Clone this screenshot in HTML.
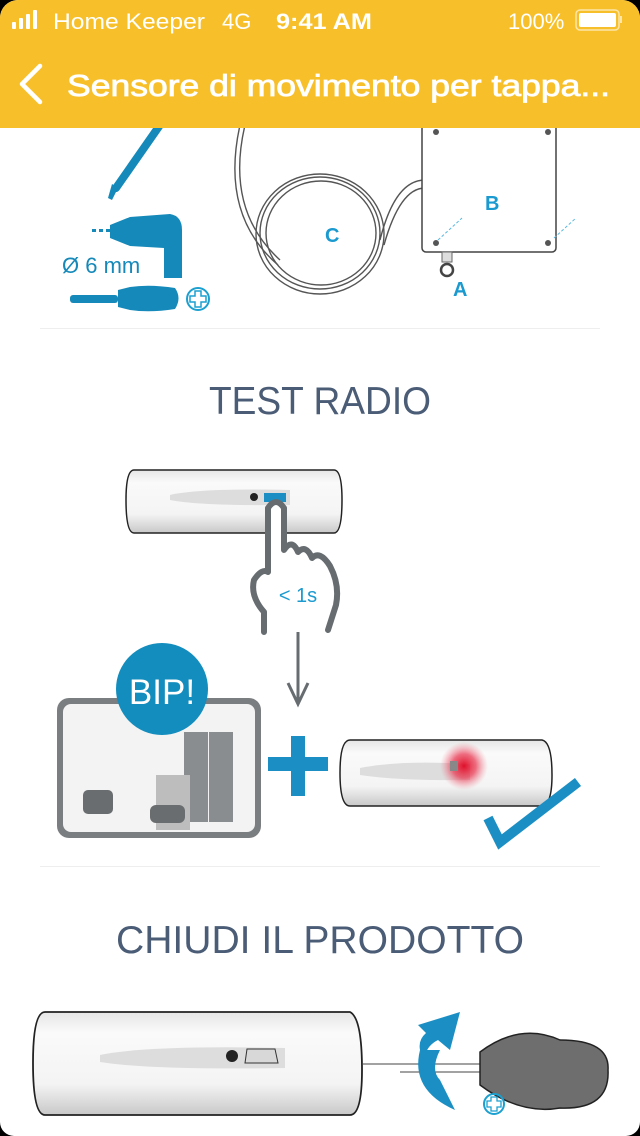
<!DOCTYPE html>
<html><head><meta charset="utf-8"><style>
html,body{margin:0;padding:0;width:640px;height:1136px;overflow:hidden;background:#000}
#p{position:absolute;left:0;top:0;width:640px;height:1136px;background:#fff;border-radius:18px 18px 14px 14px;overflow:hidden}
svg{position:absolute;left:0;top:0}
</style></head><body><div id="p">
<svg width="640" height="1136" viewBox="0 0 640 1136" font-family="Liberation Sans, sans-serif">
<defs>
<linearGradient id="cyl" x1="0" y1="0" x2="0" y2="1">
<stop offset="0" stop-color="#e6e6e6"/><stop offset="0.2" stop-color="#fafafa"/><stop offset="0.7" stop-color="#f4f4f4"/><stop offset="1" stop-color="#c8c8c8"/></linearGradient>
<radialGradient id="red"><stop offset="0" stop-color="#e0102a"/><stop offset="0.5" stop-color="#e8304a" stop-opacity="0.7"/><stop offset="1" stop-color="#f08090" stop-opacity="0"/></radialGradient>
</defs>

<!-- TOP ILLUSTRATION -->
<line x1="160" y1="125" x2="116" y2="188" stroke="#1589b9" stroke-width="8" stroke-linecap="round"/>
<path d="M112 184 l6 4 -6 12 -4 -2z" fill="#1589b9"/>
<g fill="#1589b9">
<rect x="92" y="229" width="4" height="3"/><rect x="99" y="229" width="4" height="3"/><rect x="106" y="229" width="4" height="3"/>
<path d="M110 225 L130 217 L170 214 Q182 216 182 230 L182 278 L164 278 L164 248 L130 246 L110 238 Z"/>
<rect x="70" y="295" width="48" height="8" rx="3"/>
<path d="M118 290 L130 287 Q150 284 175 288 Q182 298 175 309 Q150 313 130 310 L118 307Z"/>
</g>
<circle cx="198" cy="299" r="11" fill="none" stroke="#1ba0d0" stroke-width="2"/>
<path d="M195 291h6v5h5v6h-5v5h-6v-5h-5v-6h5z" fill="none" stroke="#1ba0d0" stroke-width="1.5"/>
<text x="62" y="273" font-size="22" fill="#1589b9">Ø 6 mm</text>
<!-- cable -->
<g fill="none" stroke="#555" stroke-width="1.4">
<ellipse cx="320" cy="233" rx="60" ry="56"/><ellipse cx="321" cy="233" rx="55" ry="52"/><ellipse cx="320" cy="234" rx="64" ry="60"/>
<path d="M245 125 Q225 210 280 260"/><path d="M240 125 Q220 215 278 265"/>
<path d="M380 240 Q395 180 425 180"/><path d="M384 245 Q400 188 425 188"/>
</g>
<rect x="422" y="118" width="134" height="134" rx="4" fill="#fff" stroke="#444" stroke-width="1.5"/>
<g fill="#555"><circle cx="436" cy="132" r="3"/><circle cx="548" cy="132" r="3"/><circle cx="436" cy="243" r="3"/><circle cx="548" cy="243" r="3"/></g>
<line x1="438" y1="240" x2="462" y2="218" stroke="#5ab8e0" stroke-dasharray="3 2"/>
<line x1="554" y1="238" x2="576" y2="218" stroke="#5ab8e0" stroke-dasharray="3 2"/>
<rect x="442" y="252" width="10" height="10" fill="#ddd" stroke="#666"/>
<circle cx="447" cy="270" r="6" fill="none" stroke="#444" stroke-width="2.5"/>
<text x="485" y="210" font-size="20" font-weight="bold" fill="#1b9ad0">B</text>
<text x="325" y="242" font-size="20" font-weight="bold" fill="#1b9ad0">C</text>
<text x="453" y="296" font-size="20" font-weight="bold" fill="#1b9ad0">A</text>

<line x1="40" y1="328.5" x2="600" y2="328.5" stroke="#eee" stroke-width="1"/>
<text x="320" y="414" font-size="39" fill="#4a5c76" text-anchor="middle" textLength="222" lengthAdjust="spacingAndGlyphs">TEST RADIO</text>

<!-- sensor 1 -->
<path d="M134 470 L334 470 Q342 470 342 500 Q342 533 334 533 L134 533 Q126 533 126 500 Q126 470 134 470Z" fill="url(#cyl)" stroke="#222" stroke-width="1.5"/>
<path d="M170 495 Q200 488 290 490 L290 505 Q200 506 170 500Z" fill="#ddd"/>
<circle cx="254" cy="497" r="4" fill="#222"/>
<rect x="264" y="493" width="22" height="9" fill="#1b8fc4"/>
<!-- hand -->
<path d="M264 632 L264 612 Q250 596 254 580 Q262 568 268 572 L268 508 Q276 496 284 508 L284 550 Q292 538 298 552 Q306 544 312 558 Q320 550 330 566 Q340 585 336 605 L328 630" fill="#fff" stroke="#666c70" stroke-width="6" stroke-linecap="round" stroke-linejoin="round"/>
<text x="298" y="602" font-size="20" fill="#1b9ad0" text-anchor="middle">&lt; 1s</text>
<line x1="298" y1="632" x2="298" y2="703" stroke="#666c70" stroke-width="3"/>
<path d="M288 683 L298 704 L308 683" fill="none" stroke="#666c70" stroke-width="3"/>

<!-- alarm box -->
<rect x="57" y="698" width="204" height="140" rx="12" fill="#7b7e80"/>
<rect x="63" y="704" width="192" height="128" rx="8" fill="#f3f3f3"/>
<rect x="184" y="732" width="24" height="90" fill="#8a8d8f"/><rect x="209" y="732" width="24" height="90" fill="#8a8d8f"/>
<rect x="156" y="775" width="34" height="55" fill="#bdbdbd"/>
<rect x="83" y="790" width="30" height="24" rx="5" fill="#6a6d6f"/>
<rect x="150" y="805" width="35" height="18" rx="6" fill="#6a6d6f"/>
<circle cx="162" cy="689" r="46" fill="#138dbd"/>
<text x="162" y="704" font-size="35" fill="#fff" text-anchor="middle">BIP!</text>
<!-- plus -->
<rect x="268" y="757" width="60" height="14" fill="#1b8fc4"/><rect x="291" y="736" width="14" height="60" fill="#1b8fc4"/>
<!-- sensor 2 -->
<path d="M350 740 L542 740 Q552 742 552 775 Q552 805 542 806 L350 806 Q340 806 340 773 Q340 740 350 740Z" fill="url(#cyl)" stroke="#222" stroke-width="1.5"/>
<path d="M360 768 Q400 760 470 764 L470 780 Q400 781 360 775Z" fill="#ddd"/>
<circle cx="464" cy="766" r="24" fill="url(#red)"/>
<rect x="450" y="761" width="8" height="10" fill="#888"/>
<path d="M488 818 L500 842 L578 782" fill="none" stroke="#1b8fc4" stroke-width="10"/>

<line x1="40" y1="866.5" x2="600" y2="866.5" stroke="#eee" stroke-width="1"/>
<text x="320" y="953" font-size="39" fill="#4a5c76" text-anchor="middle" textLength="408" lengthAdjust="spacingAndGlyphs">CHIUDI IL PRODOTTO</text>

<!-- sensor 3 -->
<path d="M45 1012 L350 1012 Q362 1018 362 1070 Q362 1115 350 1115 L45 1115 Q33 1115 33 1063 Q33 1012 45 1012Z" fill="url(#cyl)" stroke="#222" stroke-width="1.8"/>
<path d="M100 1055 Q150 1045 285 1048 L285 1068 Q150 1070 100 1062Z" fill="#ddd"/>
<circle cx="232" cy="1056" r="6" fill="#222"/>
<path d="M247 1049 L275 1049 L278 1063 L245 1063Z" fill="#d8d8d8" stroke="#333"/>
<line x1="362" y1="1064" x2="480" y2="1064" stroke="#444" stroke-width="1"/><line x1="400" y1="1072" x2="480" y2="1072" stroke="#444" stroke-width="1"/>
<path d="M480 1052 Q520 1022 560 1040 Q610 1040 608 1070 Q610 1110 560 1108 Q520 1115 480 1085Z" fill="#6e6e6e" stroke="#222" stroke-width="1.5"/>
<path d="M420 1050 Q410 1090 455 1110 L440 1080 Q430 1070 440 1050 Z" fill="#1b8fc4"/>
<path d="M418 1025 L460 1012 L450 1050 L438 1040 Q428 1045 425 1055 L420 1050 Q418 1040 426 1033Z" fill="#1b8fc4"/>
<circle cx="494" cy="1104" r="10" fill="none" stroke="#1ba0d0" stroke-width="2"/>
<path d="M491 1097h6v4h4v6h-4v4h-6v-4h-4v-6h4z" fill="none" stroke="#1ba0d0" stroke-width="1.3"/>

<!-- HEADER -->
<rect x="0" y="0" width="640" height="128" fill="#f7c02b"/>
<g fill="#fff"><rect x="12" y="22" width="4" height="7" rx="1"/><rect x="19" y="18" width="4" height="11" rx="1"/><rect x="26" y="14" width="4" height="15" rx="1"/><rect x="33" y="10" width="4" height="19" rx="1"/></g>
<text x="53" y="29" font-size="22" fill="#fff" textLength="152" lengthAdjust="spacingAndGlyphs">Home Keeper</text>
<text x="222" y="29" font-size="22" fill="#fff">4G</text>
<text x="276" y="29" font-size="22" font-weight="bold" fill="#fff" textLength="96" lengthAdjust="spacingAndGlyphs">9:41 AM</text>
<text x="508" y="29" font-size="22" fill="#fff">100%</text>
<rect x="576" y="10" width="43" height="20" rx="4" fill="none" stroke="#fff" stroke-opacity="0.6" stroke-width="1.5"/>
<rect x="579" y="13" width="37" height="14" rx="2" fill="#fff"/>
<rect x="620" y="16" width="2" height="7" fill="#fff" fill-opacity="0.6"/>
<path d="M40 66 L22 84 L40 102" fill="none" stroke="#fff" stroke-width="4.5" stroke-linecap="round" stroke-linejoin="round"/>
<text x="67" y="96" font-size="31" fill="#fff" stroke="#fff" stroke-width="0.8" textLength="543" lengthAdjust="spacingAndGlyphs">Sensore di movimento per tappa...</text>
</svg>
</div></body></html>
